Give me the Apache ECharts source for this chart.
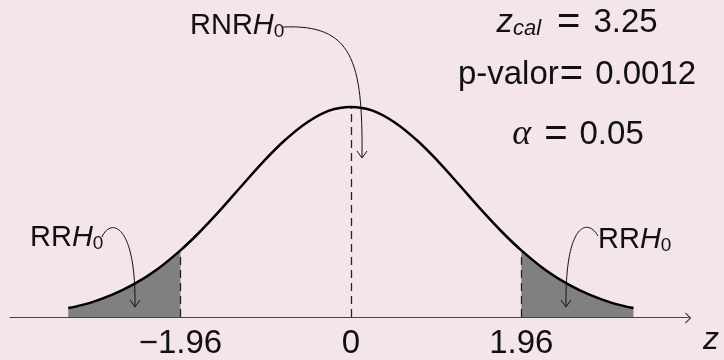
<!DOCTYPE html>
<html>
<head>
<meta charset="utf-8">
<title>Prueba z bilateral</title>
<script src="https://cdn.jsdelivr.net/npm/echarts@6/dist/echarts.min.js"></script>
<style>
    html, body {margin: 0; padding: 0; background: #f3e5e8;}
    #main {width: 724px; height: 360px;}
</style>
</head>
<body>
<div id="main"></div>
<script type="text/javascript">
    // valores (altura de la curva en cada z)
    var zVals = [-3.25, -3, -2.75, -2.5, -2.25, -1.96, -1.75, -1.5, -1.25, -1, -0.75, -0.5, -0.25, 0,
                 0.25, 0.5, 0.75, 1, 1.25, 1.5, 1.75, 1.96, 2.25, 2.5, 2.75, 3, 3.25];
    var dens = [0.017, 0.027, 0.042, 0.062, 0.088, 0.127, 0.160, 0.204, 0.251, 0.297, 0.338, 0.371, 0.393, 0.400,
                0.393, 0.371, 0.338, 0.297, 0.251, 0.204, 0.160, 0.127, 0.088, 0.062, 0.042, 0.027, 0.017];
    var tickVals = [-1.96, 0, 1.96];
    var zCal = '3.25', pValor = '0.0012', alpha = '0.05';

    var curve = zVals.map(function (z, i) { return [z, dens[i]]; });
    var iLow = zVals.indexOf(tickVals[0]);
    var iMid = zVals.indexOf(tickVals[1]);
    var iHigh = zVals.indexOf(tickVals[2]);
    var leftTail = curve.slice(0, iLow + 1);
    var rightTail = curve.slice(iHigh);

    var ink = '#111';
    var sans = 'Liberation Sans';

    function vline(p) {
        return [{coord: [p[0], 0]}, {coord: [p[0], p[1]]}];
    }
    function head(x, y) { // punta de flecha abierta hacia abajo
        return {type: 'polyline', shape: {points: [[x - 5, y - 7], [x, y], [x + 5, y - 7]]},
                style: {stroke: ink, lineWidth: 1, fill: null}, z: 10};
    }
    function arc(x1, y1, c1x, c1y, c2x, c2y, x2, y2) {
        return {type: 'bezierCurve', shape: {x1: x1, y1: y1, cpx1: c1x, cpy1: c1y, cpx2: c2x, cpy2: c2y, x2: x2, y2: y2},
                style: {stroke: ink, lineWidth: 1, fill: null}, z: 10};
    }
    function txt(x, y, align, text, rich) {
        return {type: 'text', x: x, y: y, z: 10,
                style: {text: text, align: align, verticalAlign: 'middle',
                        textAlign: align, textVerticalAlign: 'middle', rich: rich, fill: ink}};
    }
    function tok(size, extra) {
        var o = {fontFamily: sans, fontSize: size, lineHeight: size + 1, fill: ink, color: ink};
        for (var k in extra) o[k] = extra[k];
        return o;
    }
    var hRich = {
        r: tok(29),
        h: tok(29, {fontStyle: 'italic'}),
        s: tok(19, {lineHeight: 12, verticalAlign: 'bottom'})
    };

    var myChart = echarts.init(document.getElementById('main'), null, {renderer: 'canvas'});
    var option = {
        backgroundColor: '#f3e5e8',
        animation: false,
        grid: {left: 10, right: 34, top: 2, bottom: 42},
        xAxis: {
            type: 'value',
            min: -3.92,
            max: 3.9,
            axisLine: {lineStyle: {color: '#444', width: 1.2}},
            axisTick: {show: false},
            splitLine: {show: false},
            axisLabel: {
                customValues: tickVals,
                margin: 10,
                fontFamily: sans,
                fontSize: 33,
                lineHeight: 33,
                color: ink,
                formatter: function (v) { return String(v).replace('-', '\u2212'); }
            }
        },
        yAxis: {type: 'value', min: 0, max: 0.6, show: false},
        series: [
            {
                type: 'line', data: leftTail, smooth: 0.4, symbol: 'none', silent: true,
                lineStyle: {width: 0}, areaStyle: {color: '#808080', opacity: 1}, z: 1
            },
            {
                type: 'line', data: rightTail, smooth: 0.4, symbol: 'none', silent: true,
                lineStyle: {width: 0}, areaStyle: {color: '#808080', opacity: 1}, z: 1
            },
            {
                type: 'line', data: curve, smooth: 0.4, symbol: 'none', silent: true,
                lineStyle: {color: '#000', width: 2.5}, z: 3,
                markLine: {
                    silent: true,
                    symbol: ['none', 'none'],
                    label: {show: false},
                    lineStyle: {color: '#222', width: 1.3, type: [8, 5]},
                    data: [vline(curve[iLow]), vline(curve[iMid]), vline(curve[iHigh])]
                }
            }
        ],
        graphic: [
            // punta del eje z y su nombre
            {type: 'polyline', shape: {points: [[685.5, 313], [690.5, 318], [685.5, 323]]},
             style: {stroke: '#444', lineWidth: 1.1, fill: null}, z: 10},
            txt(703, 340, 'left', '{z|z}', {z: tok(32, {fontStyle: 'italic'})}),
            // RNR H0
            txt(190, 26, 'left', '{r|RNR}{h|H}{s|0}', hRich),
            arc(283, 27, 352, 24, 363, 60, 362, 157),
            head(362, 158),
            // RR H0 izquierda
            txt(30, 238, 'left', '{r|RR}{h|H}{s|0}', hRich),
            arc(102, 237, 110, 218, 136, 222, 135, 306),
            head(135, 307),
            // RR H0 derecha
            txt(598, 240, 'left', '{r|RR}{h|H}{s|0}', hRich),
            arc(598, 236, 588, 218, 565, 222, 566, 306),
            head(566, 307),
            // resultados
            txt(577, 23, 'center', '{zi|z}{sub|cal}{eq|=}{n|' + zCal + '}', {
                zi: tok(33, {fontStyle: 'italic'}),
                sub: tok(22, {fontStyle: 'italic', lineHeight: 14, verticalAlign: 'bottom'}),
                eq: tok(40, {lineHeight: 34, padding: [0, 13, 0, 16]}),
                n: tok(33)
            }),
            txt(577, 75, 'center', '{n|p-valor}{eq|=}{n|' + pValor + '}', {
                n: tok(33),
                eq: tok(40, {lineHeight: 34, padding: [0, 12, 0, 1]})
            }),
            txt(578, 135, 'center', '{a|\u03b1}{eq|=}{n|' + alpha + '}', {
                a: tok(36, {fontFamily: 'Liberation Serif', fontStyle: 'italic'}),
                eq: tok(40, {lineHeight: 34, padding: [0, 12, 0, 13]}),
                n: tok(33)
            })
        ]
    };
    myChart.setOption(option);
</script>
</body>
</html>
